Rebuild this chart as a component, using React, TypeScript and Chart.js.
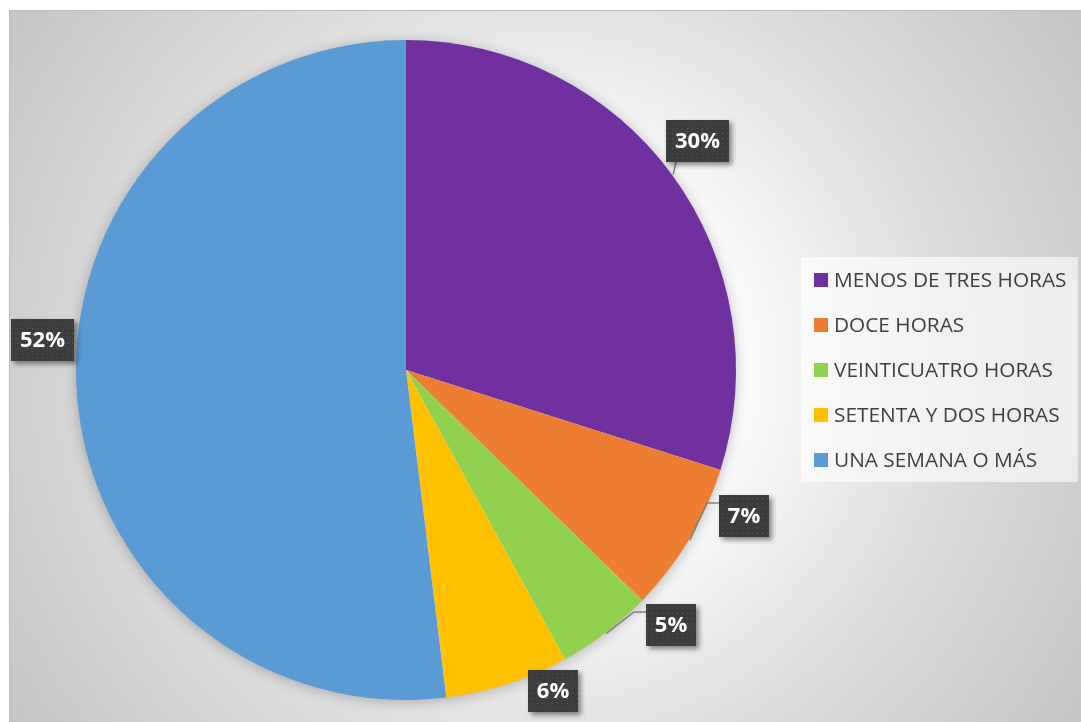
import React, { useEffect, useRef } from "react";
import { Chart, registerables } from "chart.js";

Chart.register(...registerables);

const CATEGORIES = [
  "MENOS DE TRES HORAS",
  "DOCE HORAS",
  "VEINTICUATRO HORAS",
  "SETENTA Y DOS HORAS",
  "UNA SEMANA O MÁS",
];
const VALUES = [29.9, 7.4, 4.7, 6.05, 51.95];
const COLORS = ["#7030A0", "#ED7D31", "#92D050", "#FFC000", "#5B9BD5"];

// data-label layout (angle shift from slice middle in degrees, distance in radii, leader style)
const LABEL_ANGLE_SHIFT = [-1.9, -7.6, -8.9, -6.7, 8.3];
const LABEL_DIST = [1.124, 1.115, 1.115, 1.07, 1.106];
const LABEL_LEADER = ["bottom", "left", "left", "none", "none"];

const LABEL_FONT = 'bold 22px "Open Sans"';
const LEGEND_FONT = '20.8px "Open Sans"';

function makePattern(ctx: CanvasRenderingContext2D) {
  const c = document.createElement("canvas");
  c.width = 5;
  c.height = 5;
  const p = c.getContext("2d")!;
  p.fillStyle = "#3d3d3d";
  p.fillRect(0, 0, 5, 5);
  p.fillStyle = "#575757";
  p.fillRect(2, 2, 1, 1);
  return ctx.createPattern(c, "repeat");
}

const pieShadowPlugin = {
  id: "pieShadow",
  beforeDatasetsDraw(chart: any) {
    const arc = chart.getDatasetMeta(0).data[0];
    if (!arc) return;
    const { x, y, outerRadius } = arc.getProps(["x", "y", "outerRadius"], true);
    const ctx = chart.ctx;
    ctx.save();
    ctx.shadowColor = "rgba(0,0,0,0.28)";
    ctx.shadowBlur = 14;
    ctx.shadowOffsetX = 0;
    ctx.shadowOffsetY = 2;
    ctx.fillStyle = "#ffffff";
    ctx.beginPath();
    ctx.arc(x, y, outerRadius - 1, 0, Math.PI * 2);
    ctx.fill();
    ctx.restore();
  },
};

const labelPlugin = {
  id: "excelLabels",
  afterDatasetsDraw(chart: any) {
    const ctx: CanvasRenderingContext2D = chart.ctx;
    const meta = chart.getDatasetMeta(0);
    const data: number[] = chart.data.datasets[0].data;
    const total = data.reduce((a, b) => a + b, 0);
    const pattern = makePattern(ctx);
    meta.data.forEach((arc: any, i: number) => {
      const { x, y, startAngle, endAngle, outerRadius } = arc.getProps(
        ["x", "y", "startAngle", "endAngle", "outerRadius"],
        true
      );
      const mid = (startAngle + endAngle) / 2;
      const ang = mid + (LABEL_ANGLE_SHIFT[i] * Math.PI) / 180;
      const cx = x + Math.cos(ang) * outerRadius * LABEL_DIST[i];
      const cy = y + Math.sin(ang) * outerRadius * LABEL_DIST[i];
      const text = Math.round((data[i] / total) * 100) + "%";
      ctx.save();
      ctx.font = LABEL_FONT;
      const tw = ctx.measureText(text).width;
      const w = Math.round(tw + 18);
      const h = 42;
      const bx = Math.round(cx - w / 2);
      const by = Math.round(cy - h / 2);

      // leader line
      const ex = x + Math.cos(mid) * (outerRadius + 1);
      const ey = y + Math.sin(mid) * (outerRadius + 1);
      ctx.strokeStyle = "#7f7f7f";
      ctx.lineWidth = 1.5;
      if (LABEL_LEADER[i] === "bottom") {
        ctx.beginPath();
        ctx.moveTo(ex, ey);
        ctx.lineTo(bx + 10, by + h);
        ctx.stroke();
      } else if (LABEL_LEADER[i] === "left") {
        ctx.beginPath();
        ctx.moveTo(ex, ey);
        ctx.lineTo(bx - 12, by + 8);
        ctx.lineTo(bx, by + 8);
        ctx.stroke();
      }

      // box with shadow
      ctx.shadowColor = "rgba(0,0,0,0.45)";
      ctx.shadowBlur = 5;
      ctx.shadowOffsetX = 3;
      ctx.shadowOffsetY = 3;
      ctx.fillStyle = "#3d3d3d";
      ctx.fillRect(bx, by, w, h);
      ctx.shadowColor = "transparent";
      ctx.fillStyle = pattern || "#3d3d3d";
      ctx.fillRect(bx, by, w, h);

      ctx.fillStyle = "#ffffff";
      ctx.textAlign = "center";
      ctx.textBaseline = "middle";
      ctx.fillText(text, bx + w / 2, by + h / 2 + 1);
      ctx.restore();
    });
  },
};

const legendPlugin = {
  id: "excelLegend",
  afterDraw(chart: any) {
    const ctx: CanvasRenderingContext2D = chart.ctx;
    const labels: string[] = chart.data.labels;
    const colors: string[] = chart.data.datasets[0].backgroundColor;
    const area = chart.chartArea;
    const lx = area.right + 65;
    const ly = 246;
    const lw = 277;
    const lh = 225;
    ctx.save();
    ctx.fillStyle = "rgba(255,255,255,0.6)";
    ctx.fillRect(lx, ly, lw, lh);
    ctx.font = LEGEND_FONT;
    ctx.textBaseline = "alphabetic";
    ctx.textAlign = "left";
    labels.forEach((lab, i) => {
      const rowBase = ly + 30 + i * 45;
      ctx.fillStyle = colors[i];
      ctx.fillRect(lx + 13, rowBase - 14, 14, 14);
      ctx.fillStyle = "#404040";
      ctx.fillText(lab, lx + 33, rowBase);
    });
    ctx.restore();
  },
};

export default function App() {
  const ref = useRef<HTMLCanvasElement | null>(null);
  useEffect(() => {
    if (!ref.current) return;
    const chart = new Chart(ref.current, {
      type: "pie",
      data: {
        labels: CATEGORIES,
        datasets: [
          {
            data: VALUES,
            backgroundColor: COLORS,
            borderWidth: 0,
          },
        ],
      },
      options: {
        animation: false,
        responsive: true,
        maintainAspectRatio: false,
        layout: { padding: { top: 29, bottom: 22, left: 66, right: 345 } },
        plugins: {
          legend: { display: false },
          tooltip: { enabled: false },
        },
      },
      plugins: [pieShadowPlugin, labelPlugin, legendPlugin],
    });
    return () => chart.destroy();
  }, []);

  return (
    <div
      style={{
        position: "absolute",
        left: 9,
        top: 10,
        width: 1072,
        height: 712,
        boxSizing: "border-box",
        borderTop: "1px solid #bdbdbd",
        borderLeft: "1px solid #bdbdbd",
        background:
          "radial-gradient(circle farthest-corner at 50% 50%, #ffffff 0%, #fbfbfb 30%, #dedede 62%, #c4c4c4 100%)",
        overflow: "hidden",
      }}
    >
      <div style={{ position: "relative", width: "100%", height: "100%" }}>
        <canvas ref={ref} />
      </div>
    </div>
  );
}
